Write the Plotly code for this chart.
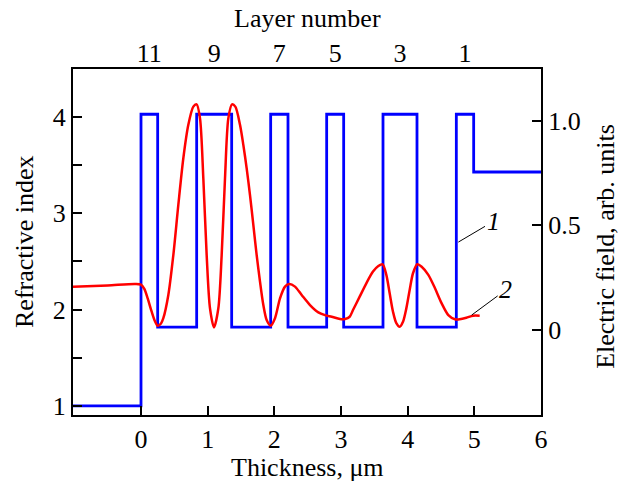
import plotly.graph_objects as go

# Refractive index profile (step function)
layer_edges = [-1.02, 0.0, 0.25, 0.835, 1.36, 1.945, 2.205, 2.785, 3.04, 3.63, 4.14, 4.73, 4.99, 6.0]
n_air, n_high, n_low, n_sub = 1.0, 4.03, 1.817, 3.43
index_values = [n_air, n_high, n_low, n_high, n_low, n_high, n_low, n_high, n_low, n_high, n_low, n_high, n_sub, n_sub]

# Electric field distribution
field_x = [-1.02, -0.5, -0.09, 0.0, 0.05, 0.1, 0.16, 0.21, 0.25, 0.30, 0.335, 0.41, 0.485, 0.56, 0.635,
           0.71, 0.785, 0.835, 0.885, 0.935, 0.985, 1.035, 1.095, 1.16, 1.21, 1.26, 1.31, 1.365,
           1.415, 1.485, 1.535, 1.585, 1.635, 1.685, 1.735, 1.785, 1.835, 1.885, 1.945, 2.01, 2.085,
           2.16, 2.225, 2.31, 2.41, 2.535, 2.66, 2.76, 2.86, 2.985, 3.06, 3.13, 3.18, 3.28, 3.38,
           3.48, 3.56, 3.625, 3.68, 3.73, 3.78, 3.83, 3.88, 3.93, 3.98, 4.03, 4.08, 4.145, 4.21,
           4.31, 4.41, 4.51, 4.61, 4.71, 4.78, 4.88, 4.98, 5.08]
field_y = [0.205, 0.212, 0.219, 0.216, 0.195, 0.15, 0.086, 0.04, 0.019, 0.03, 0.055, 0.166, 0.357, 0.597, 0.82,
           0.98, 1.067, 1.078, 1.011, 0.724, 0.357, 0.102, 0.011, 0.102, 0.357, 0.724, 1.011, 1.078,
           1.067, 0.98, 0.884, 0.772, 0.644, 0.501, 0.357, 0.23, 0.118, 0.046, 0.019, 0.055, 0.15,
           0.206, 0.219, 0.206, 0.166, 0.118, 0.083, 0.07, 0.062, 0.051, 0.051, 0.062, 0.094, 0.158, 0.222,
           0.278, 0.305, 0.313, 0.262, 0.174, 0.086, 0.031, 0.014, 0.038, 0.102, 0.19, 0.27, 0.313, 0.301,
           0.262, 0.198, 0.126, 0.07, 0.05, 0.05, 0.057, 0.067, 0.067]

# Axes ticks
x_ticks = [0, 1, 2, 3, 4, 5, 6]
layer_labels = ["11", "9", "7", "5", "3", "1"]
layer_high_idx = [1, 3, 5, 7, 9, 11]
layer_centers = [(layer_edges[i] + layer_edges[i + 1]) / 2 for i in layer_high_idx]
n_ticks = [1, 1.5, 2, 2.5, 3, 3.5, 4]
n_ticktext = ["1", "", "2", "", "3", "", "4"]
e_ticks = [0, 0.5, 1.0]
e_ticktext = ["0", "0.5", "1.0"]

FONT = "Liberation Serif"
FS = 26
fig = go.Figure()
fig.add_trace(go.Scatter(x=layer_edges, y=index_values, mode="lines", line=dict(color="#0000ff", width=2.8, shape="hv"),
                         xaxis="x", yaxis="y", showlegend=False, hoverinfo="skip"))
fig.add_trace(go.Scatter(x=field_x, y=field_y, mode="lines", line=dict(color="#ff0000", width=2.5, shape="spline", smoothing=0.8),
                         xaxis="x", yaxis="y2", showlegend=False, hoverinfo="skip"))
fig.add_trace(go.Scatter(x=[layer_edges[0], layer_edges[-1]], y=[n_air, n_air], mode="lines", opacity=0,
                         line=dict(width=0), xaxis="x2", yaxis="y", showlegend=False, hoverinfo="skip"))

xr = [-1.02, 6.0]
axis_common = dict(showgrid=False, zeroline=False, showline=True, linecolor="black", linewidth=2, automargin=False,
                   tickfont=dict(family=FONT, size=FS, color="black"), ticklen=9, tickwidth=1.5, tickcolor="black")
title_font = dict(family=FONT, size=FS, color="black")
# plot area at x 73..541, y 69..415 of the 626x484 page
fig.update_layout(
    width=626, height=484,
    margin=dict(l=73, r=85, t=69, b=69),
    plot_bgcolor="white", paper_bgcolor="white",
    font=dict(family=FONT, size=FS, color="black"),
    xaxis=dict(range=xr, tickvals=x_ticks, ticks="inside", **axis_common),
    xaxis2=dict(range=xr, overlaying="x", side="top", tickvals=layer_centers, ticktext=layer_labels, ticks="",
                ticklabelstandoff=-5, **axis_common),
    yaxis=dict(range=[0.905, 4.5], tickvals=n_ticks, ticktext=n_ticktext, ticks="inside", **axis_common),
    yaxis2=dict(range=[-0.408, 1.247], overlaying="y", side="right", tickvals=e_ticks, ticktext=e_ticktext, ticks="inside", **axis_common),
    annotations=[
        dict(x=0.5, y=1.147, xref="paper", yref="paper", text="Layer number", showarrow=False, font=title_font,
             xanchor="center", yanchor="middle"),
        dict(x=0.5, y=-0.153, xref="paper", yref="paper", text="Thickness, μm", showarrow=False, font=title_font,
             xanchor="center", yanchor="middle"),
        dict(x=-0.1047, y=0.5, xref="paper", yref="paper", text="Refractive index", showarrow=False, font=title_font,
             textangle=-90, xanchor="center", yanchor="middle"),
        dict(x=1.1389, y=0.486, xref="paper", yref="paper", text="Electric field, arb. units", showarrow=False, font=title_font,
             textangle=-90, xanchor="center", yanchor="middle"),
        dict(x=4.76, y=0.419, xref="x", yref="y2", ax=5.28, ay=0.517, axref="x", ayref="y2", text="<i>1</i>",
             showarrow=True, arrowhead=0, arrowwidth=1, arrowcolor="black", font=title_font),
        dict(x=4.96, y=0.07, xref="x", yref="y2", ax=5.47, ay=0.19, axref="x", ayref="y2", text="<i>2</i>",
             showarrow=True, arrowhead=0, arrowwidth=1, arrowcolor="black", font=title_font),
    ],
)
fig.write_html("out.html", config={"displayModeBar": False}, post_script="document.body.style.margin='0';")
